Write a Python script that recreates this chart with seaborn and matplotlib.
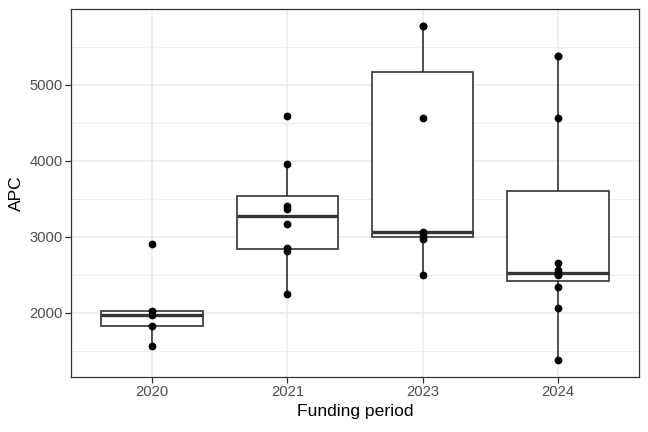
import pandas as pd
import seaborn as sns
import matplotlib.pyplot as plt
from matplotlib.ticker import MultipleLocator

# APC values per funding period
periods = ["2020", "2021", "2023", "2024"]
apc_2020 = [1570, 1830, 1975, 2030, 2900]
apc_2021 = [2250, 2820, 2855, 3175, 3370, 3400, 3960, 4590]
apc_2023 = [2497, 2970, 3020, 3065, 4556, 5774, 5774]
apc_2024 = [1376, 2069, 2336, 2502, 2510, 2519, 2560, 2654, 4561, 5377, 5377]

rows = []
for p, vals in zip(periods, [apc_2020, apc_2021, apc_2023, apc_2024]):
    for v in vals:
        rows.append({"Funding period": p, "APC": v})
df = pd.DataFrame(rows)

sns.set_style("white")
plt.rcParams["font.family"] = ["Liberation Sans", "DejaVu Sans"]

fig, ax = plt.subplots(figsize=(6.48, 4.32), dpi=100)
fig.subplots_adjust(left=0.1096, right=0.986, top=0.979, bottom=0.127)

sns.boxplot(data=df, x="Funding period", y="APC", order=periods, color="white",
            linecolor="#333333", linewidth=1.2, width=0.75, showcaps=False,
            showfliers=False, medianprops={"linewidth": 2.4}, ax=ax, zorder=2)
sns.stripplot(data=df, x="Funding period", y="APC", order=periods, jitter=False,
              color="black", size=5.6, ax=ax, zorder=3)

# ggplot-like expansion
lo, hi = df["APC"].min(), df["APC"].max()
pad = (hi - lo) * 0.05
ax.set_ylim(lo - pad, hi + pad)
ax.set_xlim(-0.6, 3.6)

ax.yaxis.set_major_locator(MultipleLocator(1000))
ax.yaxis.set_minor_locator(MultipleLocator(500))
ax.grid(True, which="major", color="#EBEBEB", linewidth=1.1, zorder=0)
ax.grid(True, which="minor", axis="y", color="#EBEBEB", linewidth=0.6, zorder=0)
ax.set_axisbelow(True)

for s in ax.spines.values():
    s.set_color("#333333")
    s.set_linewidth(0.9)

ax.tick_params(axis="both", which="major", length=4, width=0.9, color="#333333",
               labelsize=10.6, labelcolor="#4D4D4D", pad=2, left=True, bottom=True)
ax.tick_params(axis="y", which="minor", length=0)
ax.set_xlabel("Funding period", fontsize=12.6, color="black", labelpad=3)
ax.set_ylabel("APC", fontsize=12.6, color="black", labelpad=4)

plt.savefig("out.png", dpi=100)
